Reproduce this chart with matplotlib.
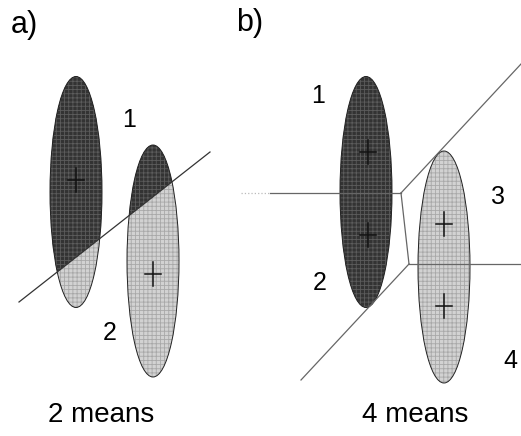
import matplotlib
matplotlib.use("Agg")
import matplotlib.pyplot as plt
from matplotlib.patches import Ellipse, Polygon

plt.rcParams['font.family'] = ['Liberation Sans', 'DejaVu Sans']
plt.rcParams['hatch.linewidth'] = 0.6

# cluster ellipses (centre x, centre y, width, height), pixel units
ell_a = [(76, 192, 52, 231), (153, 261, 52, 232)]
ell_b = [(366, 192, 52, 231), (444, 267, 52, 232)]

# cluster means
means_a_x = [76, 153]
means_a_y = [180, 274]
means_b_x = [368, 368, 444, 444]
means_b_y = [152, 235, 224, 306]

# partition boundaries
bound_a_x = [19, 210]
bound_a_y = [302, 152]
bound_b = [
    ([270, 401], [193, 193]),
    ([401, 521], [193, 64]),
    ([401, 409], [193, 264]),
    ([409, 521], [264, 264]),
    ([409, 301], [264, 380]),
]

region_labels_a = ['1', '2']
region_a_x = [129, 110]
region_a_y = [127, 340]
region_labels_b = ['1', '2', '3', '4']
region_b_x = [318, 320, 498, 510]
region_b_y = [103, 290, 204, 368]

DARK, DARK_HATCH = '#333333', '#5c5c5c'
LIGHT, LIGHT_HATCH = '#d2d2d2', '#a8a8a8'

fig = plt.figure(figsize=(5.21, 4.36), dpi=100)
ax = fig.add_axes([0, 0, 1, 1])
ax.set_xlim(0, 521)
ax.set_ylim(436, 0)
ax.axis('off')


def blob(cx, cy, w, h, face, hatch_col, clip=None):
    e = Ellipse((cx, cy), w, h, facecolor=face, edgecolor=hatch_col,
                hatch='++++', linewidth=0, zorder=2)
    ax.add_patch(e)
    if clip is not None:
        e.set_clip_path(clip)
    return e


def outline(cx, cy, w, h):
    ax.add_patch(Ellipse((cx, cy), w, h, fill=False, edgecolor='#222222',
                         linewidth=0.7, zorder=3))


def cross(x, y):
    ax.plot([x - 8, x + 8], [y, y], color='#111111', lw=1.1, zorder=4)
    ax.plot([x, x], [y - 12, y + 12], color='#111111', lw=1.1, zorder=4)


# a) two means, ellipses split by one boundary
(x0, x1), (y0, y1) = bound_a_x, bound_a_y
slope = (y1 - y0) / (x1 - x0)
upper = Polygon([(-50, y0 - slope * 69), (600, y0 + slope * 581), (600, -50), (-50, -50)],
                closed=True, transform=ax.transData)
for cx, cy, w, h in ell_a:
    blob(cx, cy, w, h, LIGHT, LIGHT_HATCH)
    blob(cx, cy, w, h, DARK, DARK_HATCH, clip=upper)
    outline(cx, cy, w, h)
for x, y in zip(means_a_x, means_a_y):
    cross(x, y)
ax.plot(bound_a_x, bound_a_y, color='#333333', lw=0.9, zorder=5)

# b) four means
blob(*ell_b[0], DARK, DARK_HATCH)
outline(*ell_b[0])
blob(*ell_b[1], LIGHT, LIGHT_HATCH)
outline(*ell_b[1])
for x, y in zip(means_b_x, means_b_y):
    cross(x, y)
for bx, by in bound_b:
    ax.plot(bx, by, color='#666666', lw=0.9, zorder=5)
ax.plot([241, 270], [193, 193], color='#bbbbbb', lw=0.9, ls=':', zorder=5)

for t, x, y in zip(region_labels_a, region_a_x, region_a_y):
    ax.text(x, y, t, fontsize=18, ha='center', va='baseline')
for t, x, y in zip(region_labels_b, region_b_x, region_b_y):
    ax.text(x, y, t, fontsize=18, ha='center', va='baseline')

ax.text(24, 33, 'a)', fontsize=22, ha='center', va='baseline')
ax.text(250, 31, 'b)', fontsize=22, ha='center', va='baseline')
ax.text(101, 422, '2 means', fontsize=20, ha='center', va='baseline')
ax.text(415, 422, '4 means', fontsize=20, ha='center', va='baseline')

fig.savefig('out.png', dpi=100)
